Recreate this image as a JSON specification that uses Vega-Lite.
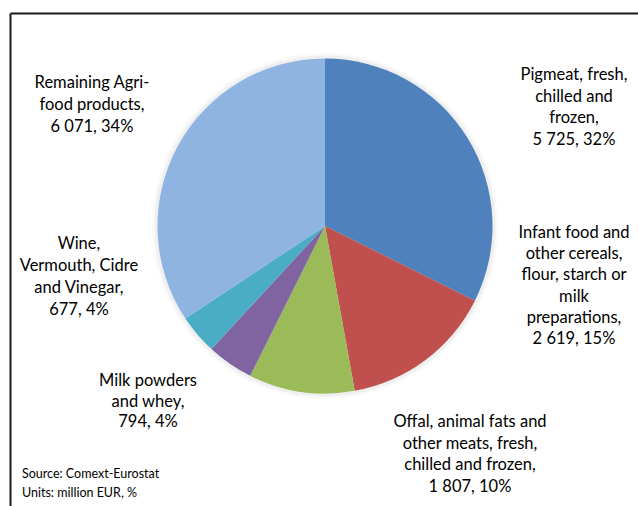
{
  "$schema": "https://vega.github.io/schema/vega-lite/v6.json",
  "autosize": {"type": "none"},
  "width": 650,
  "height": 452,
  "padding": {"left": 0, "top": 0, "right": 0, "bottom": 54},
  "background": "white",
  "config": {"view": {"stroke": null}, "font": "Lato"},
  "title": {
    "text": ["Source: Comext-Eurostat", "Units: million EUR, %"],
    "orient": "bottom",
    "anchor": "start",
    "frame": "group",
    "dx": 22,
    "offset": -28,
    "font": "Lato",
    "fontSize": 12.5,
    "fontWeight": "normal",
    "color": "#000000",
    "lineHeight": 19,
    "baseline": "top"
  },
  "data": {
    "values": [
      {"category": "Pigmeat, fresh, chilled and frozen", "value": 5725, "label": "Pigmeat, fresh,\nchilled and\nfrozen,\n5 725, 32%"},
      {"category": "Infant food and other cereals, flour, starch or milk preparations", "value": 2619, "label": "Infant food and\nother cereals,\nflour, starch or\nmilk\npreparations,\n2 619, 15%"},
      {"category": "Offal, animal fats and other meats, fresh, chilled and frozen", "value": 1807, "label": "Offal, animal fats and\nother meats, fresh,\nchilled and frozen,\n1 807, 10%"},
      {"category": "Milk powders and whey", "value": 794, "label": "Milk powders\nand whey,\n794, 4%"},
      {"category": "Wine, Vermouth, Cidre and Vinegar", "value": 677, "label": "Wine,\nVermouth, Cidre\nand Vinegar,\n677, 4%"},
      {"category": "Remaining Agri-food products", "value": 6071, "label": "Remaining Agri-\nfood products,\n6 071, 34%"}
    ]
  },
  "transform": [
    {"stack": "value", "groupby": [], "as": ["s0", "s1"]}
  ],
  "layer": [
    {
      "transform": [{"filter": "false"}],
      "mark": {"type": "point", "opacity": 0},
      "encoding": {
        "x": {"field": "value", "type": "quantitative", "scale": {"domain": [0, 1], "range": [10, 660], "zero": false, "nice": false}, "axis": {"orient": "top", "offset": -13, "domainColor": "#1a1a1a", "domainWidth": 2, "ticks": false, "labels": false, "title": null, "grid": false}},
        "y": {"field": "s0", "type": "quantitative", "scale": {"domain": [0, 1], "range": [506, 13], "zero": false, "nice": false}, "axis": {"orient": "left", "offset": -10, "domainColor": "#1a1a1a", "domainWidth": 2, "ticks": false, "labels": false, "title": null, "grid": false}}
      }
    },
    {
      "mark": {"type": "arc", "radius": 173, "fill": "#000000", "opacity": 0.025, "stroke": null},
      "encoding": {
        "theta": {"field": "s0", "type": "quantitative", "scale": {"domain": [0, 17693], "zero": true}},
        "theta2": {"field": "s1"}
      }
    },
    {
      "mark": {"type": "arc", "radius": 170.5, "fill": "#000000", "opacity": 0.04, "stroke": null},
      "encoding": {
        "theta": {"field": "s0", "type": "quantitative"},
        "theta2": {"field": "s1"}
      }
    },
    {
      "mark": {"type": "arc", "radius": 167.5, "stroke": null},
      "encoding": {
        "theta": {"field": "s0", "type": "quantitative"},
        "theta2": {"field": "s1"},
        "color": {
          "field": "category",
          "type": "nominal",
          "legend": null,
          "scale": {
            "domain": [
              "Pigmeat, fresh, chilled and frozen",
              "Infant food and other cereals, flour, starch or milk preparations",
              "Offal, animal fats and other meats, fresh, chilled and frozen",
              "Milk powders and whey",
              "Wine, Vermouth, Cidre and Vinegar",
              "Remaining Agri-food products"
            ],
            "range": ["#4F81BD", "#C0504D", "#9BBB59", "#8064A2", "#4BACC6", "#8FB4E2"]
          }
        }
      }
    },
    {
      "transform": [{"filter": "datum.value == 5725"}],
      "mark": {"type": "text", "radius": 291.2, "thetaOffset": 1.0257, "align": "center", "baseline": "middle", "lineBreak": "\n", "fontSize": 16.5, "lineHeight": 21.5, "color": "#000000"},
      "encoding": {"theta": {"field": "s0", "type": "quantitative"}, "text": {"field": "label"}}
    },
    {
      "transform": [{"filter": "datum.value == 2619"}],
      "mark": {"type": "text", "radius": 249.1, "thetaOffset": -0.4344, "align": "center", "baseline": "middle", "lineBreak": "\n", "fontSize": 16.5, "lineHeight": 21.2, "color": "#000000"},
      "encoding": {"theta": {"field": "s0", "type": "quantitative"}, "text": {"field": "label"}}
    },
    {
      "transform": [{"filter": "datum.value == 1807"}],
      "mark": {"type": "text", "radius": 243.8, "thetaOffset": -0.4585, "align": "center", "baseline": "middle", "lineBreak": "\n", "fontSize": 16.5, "lineHeight": 21.7, "color": "#000000"},
      "encoding": {"theta": {"field": "s0", "type": "quantitative"}, "text": {"field": "label"}}
    },
    {
      "transform": [{"filter": "datum.value == 794"}],
      "mark": {"type": "text", "radius": 235.3, "thetaOffset": 0.3882, "align": "center", "baseline": "middle", "lineBreak": "\n", "fontSize": 16.5, "lineHeight": 20.5, "color": "#000000"},
      "encoding": {"theta": {"field": "s0", "type": "quantitative"}, "text": {"field": "label"}}
    },
    {
      "transform": [{"filter": "datum.value == 677"}],
      "mark": {"type": "text", "radius": 246.7, "thetaOffset": 0.7526, "align": "center", "baseline": "middle", "lineBreak": "\n", "fontSize": 16.5, "lineHeight": 22, "color": "#000000"},
      "encoding": {"theta": {"field": "s0", "type": "quantitative"}, "text": {"field": "label"}}
    },
    {
      "transform": [{"filter": "datum.value == 6071"}],
      "mark": {"type": "text", "radius": 273.4, "thetaOffset": 1.1355, "align": "center", "baseline": "middle", "lineBreak": "\n", "fontSize": 16.5, "lineHeight": 22, "color": "#000000"},
      "encoding": {"theta": {"field": "s0", "type": "quantitative"}, "text": {"field": "label"}}
    }
  ]
}
